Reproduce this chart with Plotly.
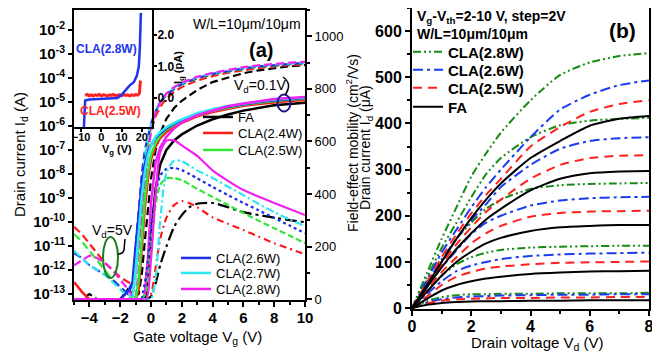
import plotly.graph_objects as go

# The page body has an 8px margin, so all layout positions below are given in
# page pixels and converted with OFF.
OFF = 8
W, H = 652, 346
FONT = "Liberation Sans, Arial, sans-serif"


def px(x):
    return (x - OFF) / W


def py(y):
    return 1 - (y - OFF) / H


# ---------------- Panel (a): transfer curves (log10 of Id in A) ----------------
vg = [-5, -4.5, -4, -3.5, -3, -2.5, -2, -1.5, -1.2, -1.0, -0.8, -0.6, -0.4, -0.2,
      0, 0.3, 0.6, 1, 1.5, 2, 3, 4, 5, 6, 7, 8, 9, 10]

# Vd = 5 V (dashed)
logid_5v_fa = [-13.22, -13.22, -13.0, -13.22, -13.22, -13.22, -13.22, -12.8, -13.0, -13.1, -13.0, -12.2, -10.8, -9.4,
               -8.2, -7.0, -6.3, -5.7, -5.25, -4.95, -4.5, -4.17, -3.97, -3.8, -3.68, -3.58, -3.51, -3.46]
logid_5v_24 = [-10.2, -10.5, -10.9, -11.3, -11.7, -12.0, -12.3, -12.5, -12.6, -12.2, -10.9, -9.4, -8.0, -7.0,
               -6.2, -5.6, -5.2, -4.85, -4.58, -4.38, -4.1, -3.92, -3.78, -3.67, -3.58, -3.51, -3.46, -3.42]
logid_5v_25 = [-10.5, -10.8, -11.2, -11.6, -12.0, -12.4, -12.8, -13.1, -13.2, -12.2, -10.6, -9.0, -7.6, -6.7,
               -6.0, -5.4, -5.0, -4.7, -4.45, -4.27, -4.02, -3.85, -3.72, -3.62, -3.53, -3.47, -3.42, -3.38]
logid_5v_26 = [-11.3, -11.5, -11.8, -12.0, -12.2, -12.4, -12.7, -13.0, -12.6, -11.0, -9.5, -8.0, -7.0, -6.4,
               -5.9, -5.4, -5.0, -4.7, -4.45, -4.25, -4.0, -3.83, -3.7, -3.6, -3.52, -3.46, -3.41, -3.37]
logid_5v_27 = [-11.2, -11.5, -11.8, -12.0, -12.2, -12.5, -12.8, -13.1, -13.0, -11.8, -10.2, -8.6, -7.3, -6.5,
               -5.9, -5.35, -4.95, -4.65, -4.4, -4.22, -3.97, -3.8, -3.67, -3.57, -3.49, -3.43, -3.38, -3.34]
logid_5v_28 = [-11.8, -11.6, -11.4, -11.5, -11.7, -12.0, -12.4, -12.8, -13.1, -13.2, -12.0, -10.2, -8.5, -7.2,
               -6.2, -5.45, -5.0, -4.65, -4.38, -4.2, -3.95, -3.78, -3.65, -3.55, -3.47, -3.41, -3.36, -3.33]

# Vd = 0.1 V (solid)
logid_01_fa = [-13.22, -13.22, -13.22, -13.22, -13.22, -13.22, -13.22, -13.22, -13.22, -13.22, -13.22, -13.22, -13.22, -12.5,
               -10.5, -8.6, -7.6, -7.0, -6.6, -6.35, -5.98, -5.72, -5.52, -5.36, -5.24, -5.14, -5.08, -5.03]
logid_01_24 = [-12.5, -12.9, -13.22, -13.22, -13.22, -13.22, -13.22, -13.22, -13.22, -13.22, -12.8, -11.0, -9.4, -8.2,
               -7.4, -6.85, -6.5, -6.25, -6.03, -5.87, -5.6, -5.42, -5.28, -5.16, -5.08, -5.01, -4.96, -4.92]
logid_01_25 = [-13.22, -13.22, -13.22, -13.22, -13.22, -13.22, -13.22, -13.22, -13.22, -13.22, -12.4, -10.5, -9.0, -7.9,
               -7.2, -6.7, -6.4, -6.15, -5.95, -5.8, -5.55, -5.37, -5.23, -5.12, -5.03, -4.96, -4.9, -4.86]
logid_01_26 = [-13.22, -13.22, -13.22, -13.22, -13.22, -13.22, -13.22, -12.9, -12.5, -11.0, -9.6, -8.4, -7.6, -7.1,
               -6.8, -6.5, -6.3, -6.1, -5.9, -5.75, -5.5, -5.33, -5.2, -5.09, -5.0, -4.93, -4.87, -4.83]
logid_01_27 = [-13.22, -13.22, -13.22, -13.22, -13.22, -13.22, -13.22, -13.22, -13.22, -12.0, -10.4, -8.9, -7.9, -7.2,
               -6.8, -6.45, -6.25, -6.05, -5.87, -5.72, -5.47, -5.3, -5.17, -5.06, -4.98, -4.9, -4.85, -4.81]
logid_01_28 = [-13.22, -13.22, -13.22, -13.22, -13.22, -13.22, -13.22, -13.22, -13.22, -13.22, -13.22, -13.22, -13.0, -11.5,
               -9.2, -7.5, -6.9, -6.45, -6.1, -5.85, -5.55, -5.35, -5.18, -5.06, -4.96, -4.88, -4.83, -4.79]

# Field-effect mobility (cm^2/Vs), right axis
vg_mu = [-0.6, -0.3, 0, 0.3, 0.6, 1.0, 1.5, 2, 2.5, 3, 4, 5, 6, 7, 8, 9, 10]
mu_fa = [0, 0, 10, 60, 130, 200, 275, 320, 350, 363, 366, 350, 331, 320, 310, 301, 293]
mu_24 = [0, 0, 20, 120, 230, 310, 358, 373, 365, 350, 312, 287, 263, 238, 213, 192, 171]
mu_25 = [0, 30, 220, 360, 435, 460, 460, 453, 437, 420, 389, 358, 328, 298, 270, 242, 213]
mu_26 = [0, 100, 260, 400, 470, 495, 499, 491, 476, 460, 427, 396, 366, 338, 309, 280, 251]
mu_27 = [0, 0, 0, 80, 300, 480, 527, 525, 508, 490, 461, 428, 396, 362, 331, 303, 278]
mu_28 = [0, 0, 150, 400, 560, 603, 604, 585, 565, 545, 490, 450, 415, 390, 366, 343, 320]

# Inset: gate leakage (pA)
vg_in_28 = [-8.6, -8.3, -8.0, -6, -2, 2, 6, 8, 10, 12, 14, 16, 17.5, 18.5, 19.0, 19.5]
ig_28 = [-0.92, -0.3, -0.08, -0.05, -0.04, -0.03, -0.02, 0.0, 0.1, 0.25, 0.4, 0.5, 0.7, 1.0, 1.6, 2.7]
vg_in_25 = [-8, -7, -6, -5, -4, -3, -2, -1, 0, 1, 2, 3, 4, 5, 6, 7, 8, 9, 10, 11, 12, 13, 14, 15, 16, 17, 18, 18.8, 19.2, 19.5]
ig_25 = [0.08, 0.11, 0.07, 0.1, 0.06, 0.1, 0.08, 0.11, 0.07, 0.1, 0.09, 0.06, 0.1, 0.08, 0.11, 0.07, 0.09, 0.1, 0.07,
         0.11, 0.08, 0.1, 0.07, 0.1, 0.08, 0.11, 0.09, 0.15, 0.5, 0.55]

# ---------------- Panel (b): output curves (uA) ----------------
vd = [0, 0.5, 1, 1.5, 2, 2.5, 3, 4, 5, 6, 7, 8]
vov_labels = ["10 V", "8 V", "6 V", "4 V", "2 V"]
id_28 = [
    [0, 75, 150, 218, 285, 335, 380, 450, 505, 532, 546, 552],
    [0, 65, 130, 185, 240, 290, 325, 370, 396, 406, 410, 412],
    [0, 50, 100, 150, 185, 215, 235, 258, 266, 269, 270, 271],
    [0, 35, 70, 95, 110, 120, 126, 131, 133, 134, 135, 135],
    [0, 15, 24, 28, 30, 30, 31, 31, 32, 32, 32, 33],
]
id_26 = [
    [0, 60, 120, 170, 218, 262, 300, 370, 430, 462, 483, 493],
    [0, 52, 105, 150, 190, 225, 262, 310, 345, 362, 368, 370],
    [0, 45, 88, 125, 160, 185, 200, 222, 233, 238, 240, 241],
    [0, 30, 58, 80, 92, 100, 106, 113, 116, 118, 119, 120],
    [0, 12, 19, 23, 25, 26, 27, 28, 29, 29, 30, 30],
]
id_25 = [
    [0, 55, 110, 160, 205, 245, 280, 350, 392, 425, 442, 450],
    [0, 48, 95, 138, 175, 208, 235, 280, 310, 325, 330, 331],
    [0, 40, 78, 110, 140, 162, 178, 198, 206, 209, 210, 211],
    [0, 25, 50, 68, 78, 86, 90, 95, 98, 99, 100, 101],
    [0, 10, 16, 19, 20, 21, 22, 22, 23, 23, 24, 24],
]
id_fa = [
    [0, 50, 100, 150, 195, 235, 270, 325, 362, 395, 410, 416],
    [0, 45, 88, 128, 162, 192, 215, 255, 280, 292, 296, 297],
    [0, 35, 70, 100, 122, 140, 152, 167, 175, 178, 180, 180],
    [0, 20, 38, 50, 58, 64, 68, 74, 77, 79, 80, 81],
    [0, 7, 11, 13, 14, 15, 15, 16, 16, 17, 17, 17],
]

# ---------------- styles ----------------
C_A = {"FA": "#000000", "2.4": "#ff1a1a", "2.5": "#33e633", "2.6": "#1f2fe6",
       "2.7": "#2ee6f0", "2.8": "#f020f0"}
C_B = {"2.8": "#158a15", "2.6": "#1a3cf0", "2.5": "#ff2020", "FA": "#000000"}

fig = go.Figure()

# Mobility curves (right axis)
mu_sets = [("FA", mu_fa, "12px,4px,3px,4px"), ("2.4", mu_24, "7px,4px,2px,4px"),
           ("2.5", mu_25, "6px,3px"), ("2.6", mu_26, "dot"),
           ("2.7", mu_27, "8px,3px,2px,3px"), ("2.8", mu_28, "solid")]
for key, mu, dash in mu_sets:
    fig.add_trace(go.Scatter(x=vg_mu, y=mu, mode="lines", xaxis="x", yaxis="y2",
                             line=dict(color=C_A[key], width=2.2, dash=dash, shape="spline", smoothing=0.7),
                             showlegend=False, hoverinfo="skip"))

# Transfer curves Vd = 5 V (dashed)
for key, arr in [("FA", logid_5v_fa), ("2.4", logid_5v_24), ("2.5", logid_5v_25),
                 ("2.6", logid_5v_26), ("2.7", logid_5v_27), ("2.8", logid_5v_28)]:
    fig.add_trace(go.Scatter(x=vg, y=[10 ** v for v in arr], mode="lines", xaxis="x", yaxis="y",
                             line=dict(color=C_A[key], width=2.2, dash="8px,4px"),
                             showlegend=False, hoverinfo="skip"))

# Transfer curves Vd = 0.1 V (solid) -> legend entries (one legend per entry)
names_a = {"FA": "FA", "2.4": "CLA(2.4W)", "2.5": "CLA(2.5W)", "2.6": "CLA(2.6W)",
           "2.7": "CLA(2.7W)", "2.8": "CLA(2.8W)"}
for key, arr, lg in [("FA", logid_01_fa, "legend"), ("2.4", logid_01_24, "legend2"),
                     ("2.5", logid_01_25, "legend3"), ("2.6", logid_01_26, "legend4"),
                     ("2.7", logid_01_27, "legend5"), ("2.8", logid_01_28, "legend6")]:
    fig.add_trace(go.Scatter(x=vg, y=[10 ** v for v in arr], mode="lines", xaxis="x", yaxis="y",
                             line=dict(color=C_A[key], width=2.5), name=names_a[key],
                             legend=lg, showlegend=True, hoverinfo="skip"))

# Inset
fig.add_trace(go.Scatter(x=vg_in_25, y=ig_25, mode="lines", xaxis="x3", yaxis="y3",
                         line=dict(color="#ff2222", width=3), showlegend=False, hoverinfo="skip"))
fig.add_trace(go.Scatter(x=vg_in_28, y=ig_28, mode="lines", xaxis="x3", yaxis="y3",
                         line=dict(color="#2233ee", width=2.5), showlegend=False, hoverinfo="skip"))

# Panel (b)
b_sets = [("2.8", "CLA(2.8W)", id_28, "8px,3px,2px,3px,2px,3px", "legend7"),
          ("2.6", "CLA(2.6W)", id_26, "10px,4px,3px,4px", "legend8"),
          ("2.5", "CLA(2.5W)", id_25, "9px,6px", "legend9"),
          ("FA", "FA", id_fa, "solid", "legend10")]
for key, nm, curves, dash, lg in b_sets:
    for i, ys in enumerate(curves):
        fig.add_trace(go.Scatter(x=vd, y=ys, mode="lines", xaxis="x4", yaxis="y4",
                                 line=dict(color=C_B[key], width=2, dash=dash, shape="spline", smoothing=0.6),
                                 name=nm, legend=lg, showlegend=(i == 0), hoverinfo="skip"))

# ---------------- axes ----------------
axis_common = dict(showgrid=False, zeroline=False, showline=True, linecolor="black", linewidth=2,
                   ticks="outside", tickcolor="black", tickwidth=2, automargin=False)
bold15 = dict(family=FONT, size=15, color="black", weight="bold")

dec = list(range(-2, -14, -1))
fig.update_layout(
    xaxis=dict(**axis_common, domain=[px(74), px(305)], range=[-5, 10], anchor="y",
               tickvals=[-4, -2, 0, 2, 4, 6, 8, 10], ticklen=5, mirror=True, ticklabelstandoff=-2,
               minor=dict(dtick=1, ticks="outside", ticklen=3, tickwidth=2, tickcolor="black"),
               tickfont=bold15),
    yaxis=dict(**axis_common, domain=[py(300), py(10)], type="log", range=[-13.25, -1.167], anchor="x",
               tickvals=[10 ** d for d in dec], ticktext=["10<sup>%d</sup>" % d for d in dec],
               ticklen=4, tickfont=bold15),
    yaxis2=dict(**axis_common, overlaying="y", side="right", anchor="x", range=[-3, 1100],
                tickvals=[0, 200, 400, 600, 800, 1000], ticklen=5,
                minor=dict(dtick=100, ticks="outside", ticklen=3, tickwidth=2, tickcolor="black"),
                tickfont=dict(family=FONT, size=13, color="black")),
    xaxis3=dict(**axis_common, domain=[px(73), px(152)], range=[-14, 25], anchor="y3",
                tickvals=[-10, 0, 10, 20], ticklen=3, ticklabelstandoff=-4,
                tickfont=dict(family=FONT, size=11, color="black", weight="bold")),
    yaxis3=dict(**axis_common, domain=[py(127), py(10)], range=[-0.92, 2.79], anchor="x3", side="right",
                tickvals=[0, 1, 2], ticktext=["0.0", "1.0", "2.0"], ticklen=3, ticklabelstandoff=-2,
                tickfont=dict(family=FONT, size=12, color="black", weight="bold")),
    xaxis4=dict(**axis_common, domain=[px(412), px(649)], range=[0, 8], anchor="y4", mirror=True,
                tickvals=[0, 2, 4, 6, 8], ticklen=5, ticklabelstandoff=-3,
                minor=dict(dtick=1, ticks="outside", ticklen=3, tickwidth=2, tickcolor="black"),
                tickfont=dict(family=FONT, size=16, color="black", weight="bold")),
    yaxis4=dict(**axis_common, domain=[py(309), py(8)], range=[-2, 650], anchor="x4", mirror=True,
                tickvals=[0, 100, 200, 300, 400, 500, 600], ticklen=5,
                minor=dict(dtick=50, ticks="outside", ticklen=3, tickwidth=2, tickcolor="black"),
                tickfont=dict(family=FONT, size=16, color="black", weight="bold")),
)

# One legend per entry so that each row sits exactly where the reference has it.
leg_common = dict(xanchor="left", yanchor="middle", bgcolor="rgba(0,0,0,0)", borderwidth=0,
                  itemwidth=30, tracegroupgap=0)
f13 = dict(family=FONT, size=13, color="black")
f15b = dict(family=FONT, size=15, color="black", weight="bold")
legend_rows = {
    "legend": (198, 117, f13), "legend2": (198, 133, f13), "legend3": (198, 150, f13),
    "legend4": (176, 258, f13), "legend5": (176, 273, f13), "legend6": (176, 289, f13),
    "legend7": (408, 52, f15b), "legend8": (408, 70, f15b), "legend9": (408, 88, f15b),
    "legend10": (408, 107, f15b),
}
fig.update_layout(**{k: dict(**leg_common, x=px(x), y=py(y), font=f) for k, (x, y, f) in legend_rows.items()})

# ---------------- annotations ----------------
anns = []


def ann(x, y, text, size=14, bold=False, color="black", angle=0, xanchor="center"):
    anns.append(dict(x=px(x), y=py(y), xref="paper", yref="paper", text=text, showarrow=False,
                     xanchor=xanchor, yanchor="middle", textangle=angle,
                     font=dict(family=FONT, size=size, color=color, weight="bold" if bold else "normal")))


ann(20, 155, "Drain current I<sub>d</sub> (A)", 15, angle=-90)
ann(197, 337, "Gate voltage V<sub>g</sub> (V)", 15)
ann(352, 143, "Field-effect mobility (cm<sup>2</sup>/Vs)", 14, angle=-90)
ann(366, 148, "Drain current I<sub>d</sub> (μA)", 14, angle=-90)
ann(537, 343, "Drain voltage V<sub>d</sub> (V)", 15)
ann(247, 24, "W/L=10μm/10μm", 14)
ann(261, 50, "(a)", 20, bold=True)
ann(260, 86, "V<sub>d</sub>=0.1V", 14)
ann(112, 231, "V<sub>d</sub>=5V", 14)
ann(106, 49, "CLA(2.8W)", 12, bold=True, color="#2233ee")
ann(110, 111, "CLA(2.5W)", 12, bold=True, color="#ff2222")
ann(117, 150, "V<sub>g</sub> (V)", 11, bold=True)
ann(179, 68, "I<sub>g</sub> (pA)", 11, bold=True, angle=-90)
ann(415, 17, "V<sub>g</sub>-V<sub>th</sub>=2-10 V, step=2V", 14, bold=True, xanchor="left")
ann(415, 34, "W/L=10μm/10μm", 14, bold=True, xanchor="left")
ann(622, 30, "(b)", 21, bold=True)

shapes = [
    dict(type="circle", xref="paper", yref="paper", x0=px(277.5), x1=px(290.5), y0=py(94.5), y1=py(111.5),
         line=dict(color="#1a1a8c", width=2)),
    dict(type="circle", xref="paper", yref="paper", x0=px(103), x1=px(118), y0=py(237), y1=py(278),
         line=dict(color="#1f7a1f", width=2)),
    dict(type="path", xref="paper", yref="paper",
         path="M %f %f Q %f %f %f %f" % (px(283), py(77), px(293), py(84), px(285), py(95)),
         line=dict(color="black", width=1.5)),
    dict(type="path", xref="paper", yref="paper",
         path="M %f %f L %f %f Q %f %f %f %f" % (px(125), py(239), px(124), py(250), px(123), py(254), px(118), py(254)),
         line=dict(color="black", width=1.5)),
]

fig.update_layout(
    width=W, height=H, margin=dict(l=0, r=0, t=0, b=0),
    paper_bgcolor="white", plot_bgcolor="rgba(0,0,0,0)",
    annotations=anns, shapes=shapes, template="none",
    font=dict(family=FONT, color="black"),
)

fig.write_html("out.html")
